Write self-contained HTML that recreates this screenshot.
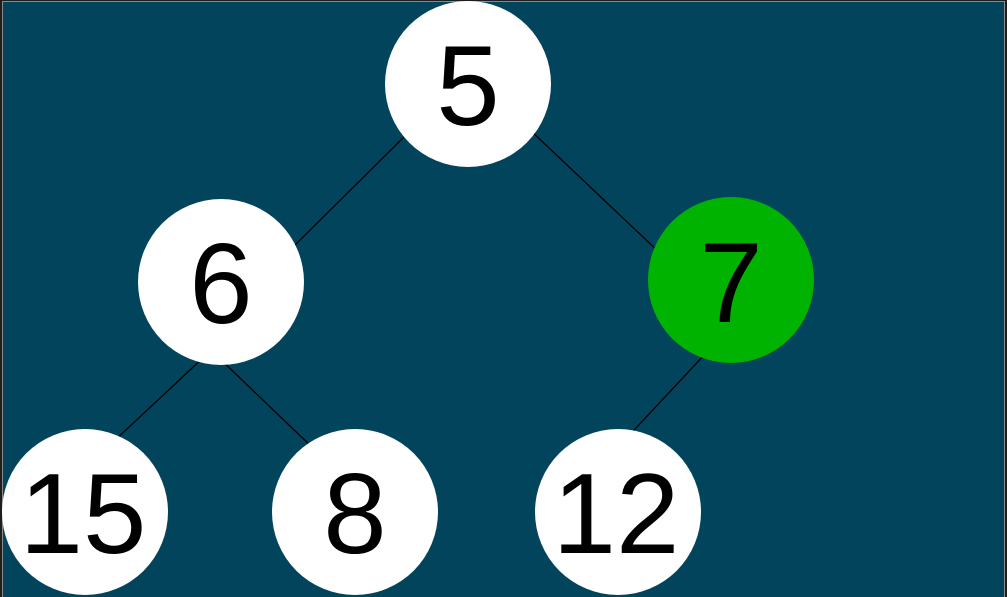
<!DOCTYPE html>
<html><head><style>
html,body{margin:0;padding:0;background:#1e1e1e;}
svg{display:block;}
</style></head><body>
<svg width="1007" height="597" xmlns="http://www.w3.org/2000/svg">
<rect x="0" y="0" width="1007" height="597" fill="#1e1e1e"/>
<rect x="2.5" y="1.5" width="1002" height="600" fill="#02445c" stroke="#8a8a8a" stroke-width="1"/>
<g stroke="#000" stroke-width="1.3">
<line x1="413" y1="128" x2="287" y2="253"/>
<line x1="528" y1="128" x2="662" y2="255"/>
<line x1="206" y1="355" x2="112" y2="443"/>
<line x1="216" y1="355" x2="315" y2="450"/>
<line x1="707" y1="352" x2="622" y2="443"/>
</g>
<g fill="#fff">
<circle cx="468" cy="84" r="83"/>
<circle cx="221" cy="282" r="83"/>
<circle cx="85" cy="512" r="83"/>
<circle cx="355" cy="512" r="83"/>
<circle cx="618" cy="512" r="83"/>
</g>
<circle cx="731" cy="280" r="83" fill="#00b300"/>
<g font-family="Liberation Sans, sans-serif" font-size="114" text-anchor="middle" fill="#000">
<text x="468" y="125">5</text>
<text x="221" y="323">6</text>
<text x="731" y="322">7</text>
<text x="83" y="553">15</text>
<text x="355" y="553">8</text>
<text x="616" y="553">12</text>
</g>
</svg>
</body></html>
